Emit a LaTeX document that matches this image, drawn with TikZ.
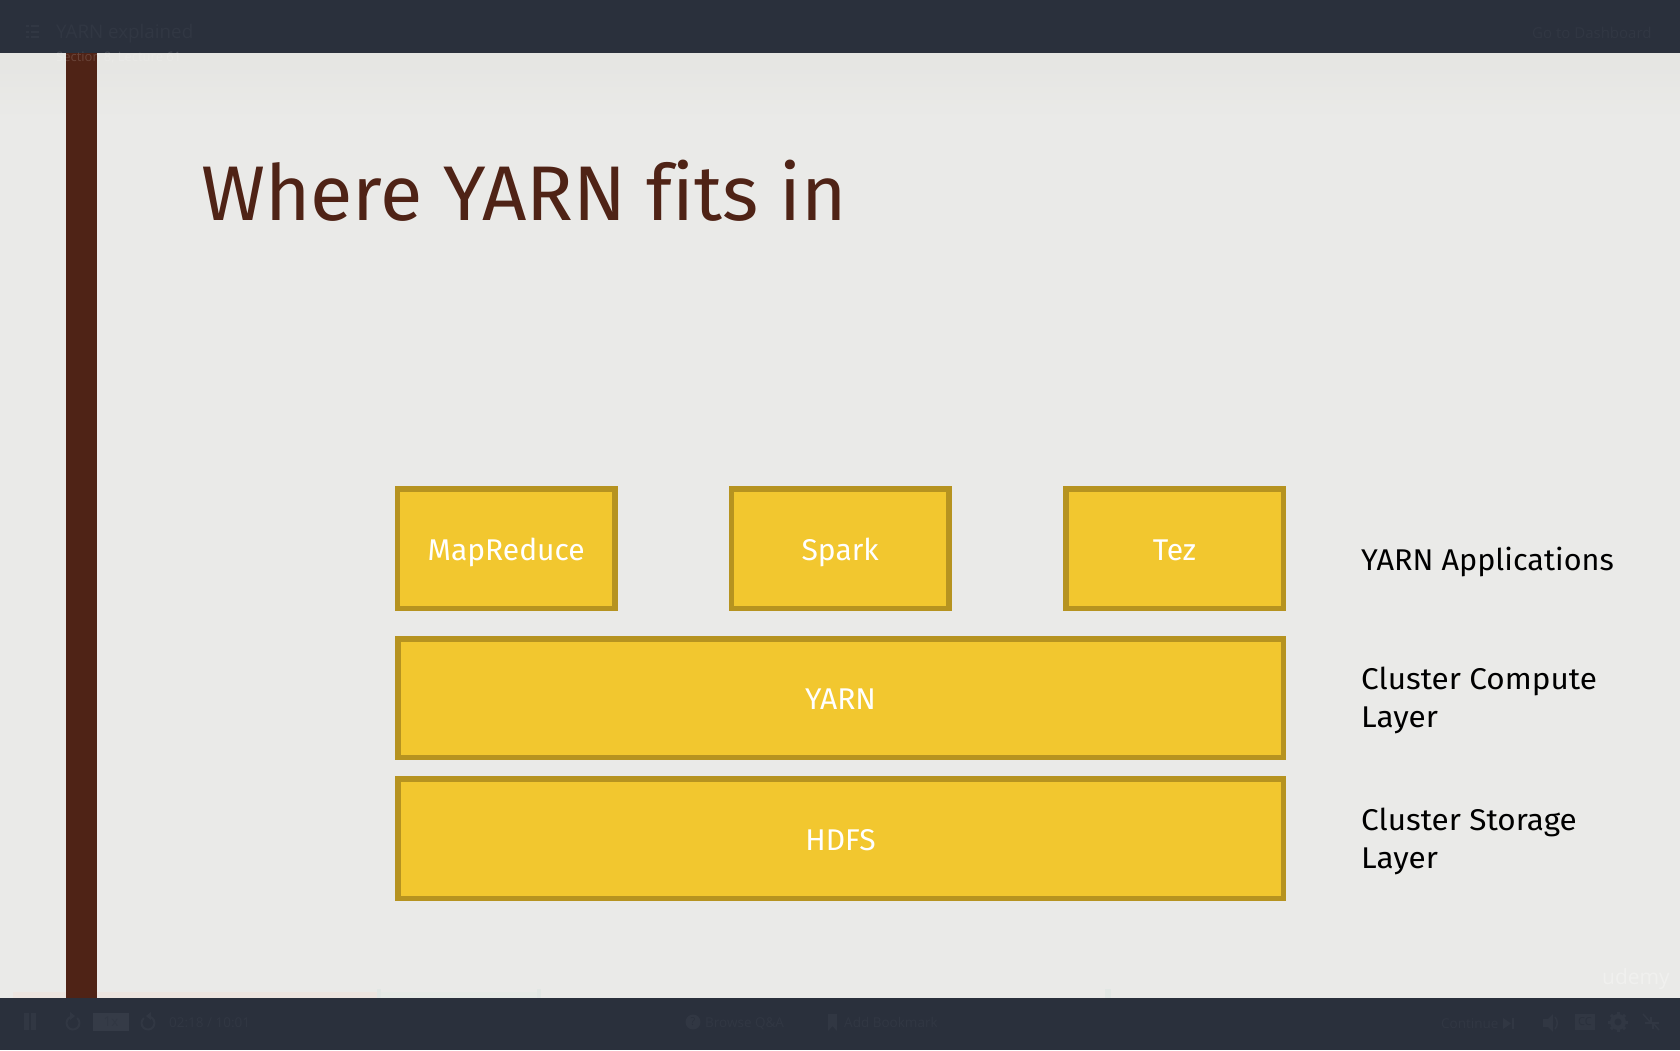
\documentclass[tikz,border=0pt]{standalone}
\usepackage{fontspec}
\setmainfont[Ligatures=NoCommon]{Fira Sans}
\newfontfamily\uifont{Open Sans}
\definecolor{barcol}{HTML}{2A303C}
\definecolor{uitxt}{HTML}{313743}
\definecolor{uibtn}{HTML}{353B47}
\definecolor{slidebg}{HTML}{EAEAE8}
\definecolor{slidetop}{HTML}{E5E5E2}
\definecolor{brownc}{HTML}{4F2316}
\definecolor{boxfill}{HTML}{F2C72F}
\definecolor{boxline}{HTML}{B69320}
\definecolor{stripa}{HTML}{EDE5E0}
\definecolor{stripb}{HTML}{E6EAE6}
\definecolor{stripc}{HTML}{E2E7E4}
\newcommand{\fs}[1]{\fontsize{#1}{#1}\selectfont}
\newcommand{\wide}[1]{\scalebox{1.05}[1]{#1}}
\tikzset{
  x=1pt,y=-1pt,
  layerbox/.style={draw=boxline,line width=5.5pt,fill=boxfill,text=white,font=\fs{30},align=center,inner sep=0pt,text height=23pt,text depth=0pt},
  sidelabel/.style={anchor=base west,font=\fs{30},text=black,inner sep=0pt,align=left},
  uilabel/.style={text=uitxt,inner sep=0pt,font=\uifont\fs{13.5}},
}
\begin{document}
\begin{tikzpicture}
\useasboundingbox (0,0) rectangle (1680,1050);
\fill[slidebg] (0,0) rectangle (1680,1050);
\shade[top color=slidetop,bottom color=slidebg] (0,53) rectangle (1680,120);
\fill[stripa] (13,992) rectangle (379,998);
\fill[stripb] (379,992) rectangle (539,998);
\fill[stripc] (377,989) rectangle (381,998);
\fill[stripc] (537,989) rectangle (541,998);
\fill[stripc] (1105,989) rectangle (1111,998);
\fill[brownc] (66,53) rectangle (97,998);
\fill[barcol] (0,0) rectangle (1680,53);
\fill[barcol] (0,998) rectangle (1680,1050);
% title
\node[anchor=base west,inner sep=0pt,text=brownc,font=\fs{77.5}] (title) at (201,220) {Where YARN fits in};
% boxes
\node[layerbox,minimum width=217.5pt,minimum height=119.5pt] (mr) at (506.2,548.5) {MapReduce};
\node[layerbox,minimum width=217.5pt,minimum height=119.5pt] (spark) at (840.2,548.5) {Spark};
\node[layerbox,minimum width=217.5pt,minimum height=119.5pt] (tez) at (1174.5,548.5) {Tez};
\node[layerbox,minimum width=885.5pt,minimum height=118.5pt] (yarn) at (840.5,698) {YARN};
\node[layerbox,minimum width=885.5pt,minimum height=119.5pt] (hdfs) at (840.5,838.5) {HDFS};
% side labels
\node[sidelabel] (l1) at (1361,570) {\scalebox{1.02}[1]{YARN Applications}};
\node[sidelabel] (l2a) at (1361,689) {\wide{Cluster Compute}};
\node[sidelabel] (l2b) at (1361,727) {\wide{Layer}};
\node[sidelabel] (l3a) at (1361,830) {\wide{Cluster Storage}};
\node[sidelabel] (l3b) at (1361,868) {\wide{Layer}};
% faint interface text
\node[uilabel,anchor=base west,font=\uifont\fs{18.8}] (ttl) at (56,38) {YARN explained};
\node[anchor=base west,inner sep=0pt,text=white,text opacity=0.15,font=\uifont\fs{13}] (sec) at (56,61) {Section 8, Lecture 61};
\foreach \yy in {26,32,37}{\fill[uitxt] (26,\yy-1) rectangle (29,\yy+1); \fill[uitxt] (31,\yy-1) rectangle (39,\yy+1);}
\node[uilabel,anchor=base west,font=\uifont\fs{15}] (dash) at (1532,38) {Go to Dashboard};
\fill[uitxt] (24,1013) rectangle (29,1030);
\fill[uitxt] (31,1013) rectangle (36,1030);
\draw[uitxt,line width=2pt] (73,1023) ++(-110:6.5) arc (-110:-410:6.5);
\fill[uitxt] (70,1012) -- (70,1020) -- (75,1016) -- cycle;
\fill[uibtn] (93,1013) rectangle (129,1031);
\node[uilabel] (spd) at (111,1022) {1x};
\draw[uitxt,line width=2pt] (148,1023) ++(-70:6.5) arc (-70:230:6.5);
\fill[uitxt] (151,1012) -- (151,1020) -- (146,1016) -- cycle;
\node[uilabel,anchor=base west] (time) at (169,1027) {02:18 / 10:01};
\fill[uitxt] (693,1022) circle (7.5);
\node[text=barcol,inner sep=0pt,font=\uifont\fs{11}] (qm) at (693,1022) {?};
\node[uilabel,anchor=base west] (qa) at (705,1027) {Browse Q\&A};
\fill[uitxt] (828,1014) -- (837,1014) -- (837,1031) -- (832.5,1026) -- (828,1031) -- cycle;
\node[uilabel,anchor=base west] (bm) at (844,1027) {Add Bookmark};
\node[uilabel,anchor=base west] (cont) at (1441,1028) {Continue};
\fill[uitxt] (1503,1018) -- (1503,1029) -- (1511,1023.5) -- cycle;
\fill[uitxt] (1512,1018) rectangle (1513.5,1029);
\fill[uitxt] (1543,1019) rectangle (1548,1027) (1548,1019) -- (1553,1014) -- (1553,1032) -- (1548,1027) -- cycle;
\draw[uitxt,line width=1.5pt] (1555,1017) to[bend left=40] (1555,1029);
\fill[uitxt] (1575,1014) rectangle (1595,1030);
\node[text=barcol,inner sep=0pt,font=\uifont\fs{11}] (cc) at (1585,1022) {CC};
\fill[uitxt] (1618,1022) circle (8);
\foreach \a in {0,45,...,315}{\draw[uitxt,line width=3pt] (1618,1022) ++(\a:7) -- ++(\a:3);}
\fill[barcol] (1618,1022) circle (3.5);
\draw[uitxt,line width=1.5pt] (1643,1014) -- (1651,1023);
\draw[uitxt,line width=1.5pt] (1645,1023) -- (1651,1023) -- (1651,1017);
\draw[uitxt,line width=1.5pt] (1659,1030) -- (1653,1023);
\draw[uitxt,line width=1.5pt] (1653,1029) -- (1653,1023) -- (1659,1023);
% watermark
\node[anchor=base east,inner sep=0pt,text=white,text opacity=0.3,font=\uifont\fs{21}] (wm) at (1670,984) {udemy};
\end{tikzpicture}
\end{document}
